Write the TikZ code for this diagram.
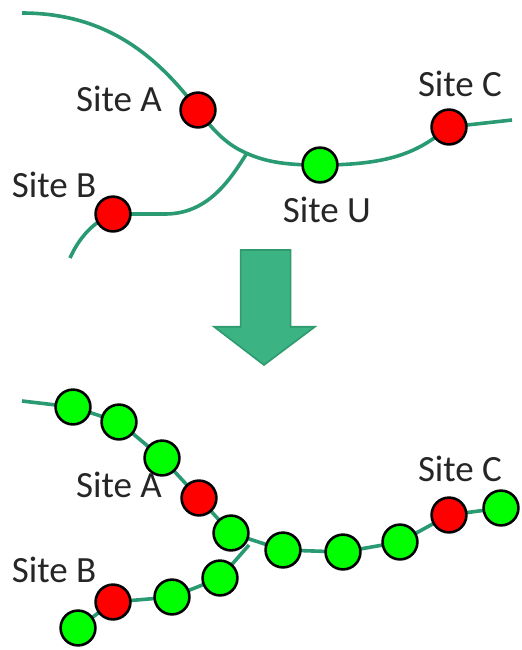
\documentclass[tikz,border=0pt]{standalone}
\usepackage{fontspec}
\setmainfont{Carlito}
\usetikzlibrary{backgrounds}
\definecolor{linegreen}{HTML}{2A9A72}
\definecolor{arrowfill}{HTML}{3BB383}
\definecolor{arrowedge}{HTML}{2E9A6E}
\definecolor{sitered}{HTML}{FF0000}
\definecolor{sitegreen}{HTML}{00FF00}
\tikzset{
  site/.style={circle,draw=black,line width=1.3pt,minimum size=17.4pt,inner sep=0pt},
  red site/.style={site,fill=sitered},
  green site/.style={site,fill=sitegreen},
  track/.style={draw=linegreen,line width=1.8pt},
  lbl/.style={anchor=base,inner sep=0pt,font=\fontsize{18.5}{22}\selectfont,text=black!85}
}
\begin{document}
\begin{tikzpicture}[x=0.5pt,y=-0.5pt]
\useasboundingbox (0,0) rectangle (522,650);
% ---------- top ----------
\node[red site] (tA) at (198,110) {};
\node[green site] (tU) at (320,165) {};
\node[red site] (tC) at (449,127) {};
\node[red site] (tB) at (113,214) {};
\coordinate (ts) at (22,13);
\coordinate (te) at (512,120);
\coordinate (tj) at (246,153);
\coordinate (tjt) at (247,153);
\coordinate (tbe) at (70,258);
\node[lbl] (ltA) at (119,111) {Site A};
\node[lbl] (ltC) at (460,96) {Site C};
\node[lbl] (ltB) at (54,197) {Site B};
\node[lbl] (ltU) at (327,222) {Site U};
\begin{pgfonlayer}{background}
\draw[track] (ts) .. controls (110,13) and (160,60) .. (tA.center)
  .. controls (215,133) and (228,145) .. (tj)
  .. controls (268,163) and (290,165) .. (tU.center)
  .. controls (395,165) and (420,150) .. (tC.center) -- (te);
\draw[track] (tjt) .. controls (230,180) and (208,214) .. (165,214) -- (tB.center)
  .. controls (92,222) and (78,240) .. (tbe);
\end{pgfonlayer}
% ---------- arrow ----------
\draw[fill=arrowfill,draw=arrowedge,line width=0.8pt,line join=miter]
  (240.7,250) -- (290.7,250) -- (290.7,326.7) -- (315,326.7) -- (264,365)
  -- (214,326.7) -- (240.7,326.7) -- cycle;
% ---------- bottom ----------
\node[green site] (b1) at (73,407) {};
\node[green site] (b2) at (119,422) {};
\node[green site] (b3) at (162,458) {};
\node[red site]   (bA) at (199,498) {};
\node[green site] (b5) at (231,533) {};
\node[green site] (b6) at (283,550) {};
\node[green site] (b7) at (343,552) {};
\node[green site] (b8) at (400,542) {};
\node[red site]   (bC) at (449,515) {};
\node[green site] (b10) at (501,508) {};
\node[green site] (b11) at (220,578) {};
\node[green site] (b12) at (172,597) {};
\node[red site]   (bB) at (113,602) {};
\node[green site] (b14) at (78,628) {};
\coordinate (bs) at (22,401);
\coordinate (bj) at (249,545);
\node[lbl] (lbA) at (119,497) {Site A};
\node[lbl] (lbC) at (460,481) {Site C};
\node[lbl] (lbB) at (54,582) {Site B};
\begin{pgfonlayer}{background}
\draw[track] (bs) -- (b1.center) -- (b2.center) -- (b3.center) -- (bA.center)
  -- (b5.center) -- (b6.center) -- (b7.center) -- (b8.center) -- (bC.center) -- (b10.center);
\draw[track] (bj) -- (b11.center) -- (b12.center) -- (bB.center) -- (b14.center);
\end{pgfonlayer}
\end{tikzpicture}
\end{document}
